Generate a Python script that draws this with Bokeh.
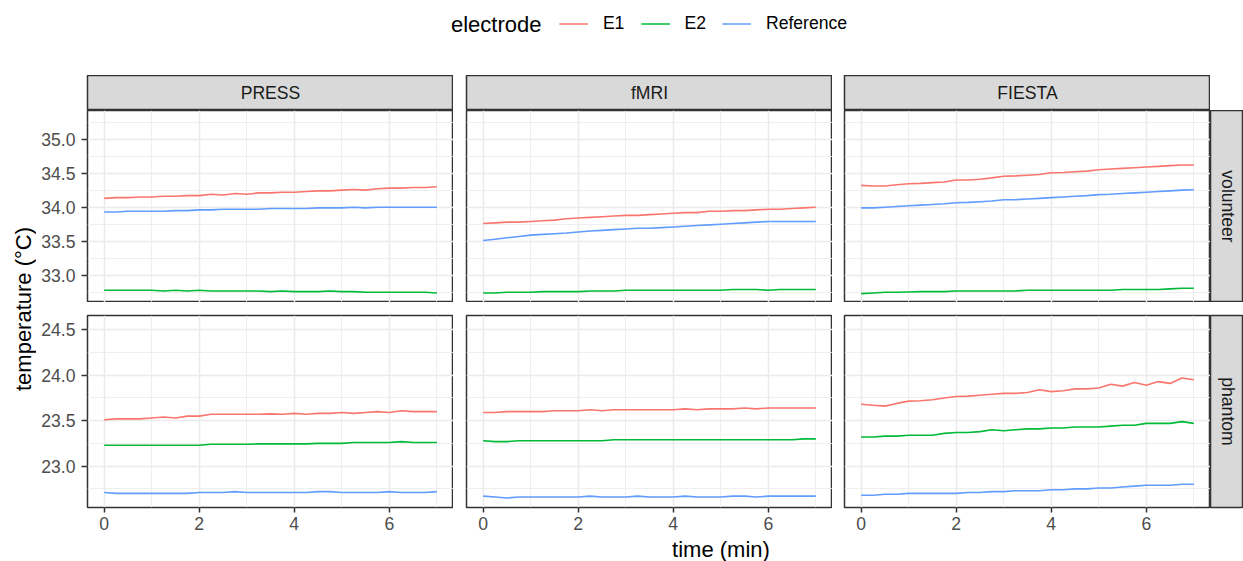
import math
from bokeh.plotting import figure
from bokeh.layouts import row, column
from bokeh.models import (Range1d, FixedTicker, Label, Legend, LegendItem,
                          Grid, PrintfTickFormatter, ColumnDataSource)
from bokeh.embed import file_html
from bokeh.resources import INLINE

# ---------------- data ----------------
time_min = [0.0, 0.25, 0.5, 0.75, 1.0, 1.25, 1.5, 1.75, 2.0, 2.25, 2.5, 2.75,
            3.0, 3.25, 3.5, 3.75, 4.0, 4.25, 4.5, 4.75, 5.0, 5.25, 5.5, 5.75,
            6.0, 6.25, 6.5, 6.75, 7.0]

electrodes = ["E1", "E2", "Reference"]
scans = ["PRESS", "fMRI", "FIESTA"]
subjects = ["volunteer", "phantom"]

press_vol_e1 = [34.14, 34.15, 34.15, 34.16, 34.16, 34.17, 34.17, 34.18, 34.18, 34.20, 34.19, 34.21, 34.20, 34.22, 34.22,
                34.23, 34.23, 34.24, 34.25, 34.25, 34.26, 34.27, 34.26, 34.28, 34.29, 34.29, 34.30, 34.30, 34.31]
press_vol_e2 = [32.79, 32.79, 32.79, 32.79, 32.79, 32.78, 32.79, 32.78, 32.79, 32.78, 32.78, 32.78, 32.78, 32.78, 32.77,
                32.78, 32.77, 32.77, 32.77, 32.78, 32.77, 32.77, 32.76, 32.76, 32.76, 32.76, 32.76, 32.76, 32.75]
press_vol_ref = [33.94, 33.94, 33.95, 33.95, 33.95, 33.95, 33.96, 33.96, 33.97, 33.97, 33.98, 33.98, 33.98, 33.98, 33.99,
                 33.99, 33.99, 33.99, 34.00, 34.00, 34.00, 34.01, 34.00, 34.01, 34.01, 34.01, 34.01, 34.01, 34.01]

fmri_vol_e1 = [33.77, 33.78, 33.79, 33.79, 33.80, 33.81, 33.82, 33.84, 33.85, 33.86, 33.87, 33.88, 33.89, 33.89, 33.90,
               33.91, 33.92, 33.93, 33.93, 33.95, 33.95, 33.96, 33.96, 33.97, 33.98, 33.98, 33.99, 34.00, 34.01]
fmri_vol_e2 = [32.75, 32.75, 32.76, 32.76, 32.76, 32.77, 32.77, 32.77, 32.77, 32.78, 32.78, 32.78, 32.79, 32.79, 32.79,
               32.79, 32.79, 32.79, 32.79, 32.79, 32.79, 32.80, 32.80, 32.80, 32.79, 32.80, 32.80, 32.80, 32.80]
fmri_vol_ref = [33.52, 33.54, 33.56, 33.58, 33.60, 33.61, 33.62, 33.63, 33.645, 33.66, 33.67, 33.68, 33.69, 33.70, 33.70,
                33.71, 33.72, 33.73, 33.74, 33.75, 33.76, 33.77, 33.78, 33.79, 33.80, 33.80, 33.80, 33.80, 33.80]

fiesta_vol_e1 = [34.33, 34.32, 34.32, 34.34, 34.355, 34.36, 34.37, 34.38, 34.41, 34.41, 34.42, 34.44, 34.465, 34.47, 34.48,
                 34.49, 34.515, 34.52, 34.53, 34.54, 34.56, 34.57, 34.58, 34.59, 34.60, 34.61, 34.62, 34.63, 34.63]
fiesta_vol_e2 = [32.74, 32.75, 32.76, 32.76, 32.765, 32.77, 32.77, 32.77, 32.78, 32.78, 32.78, 32.78, 32.78, 32.78, 32.79,
                 32.79, 32.79, 32.79, 32.79, 32.79, 32.79, 32.79, 32.80, 32.80, 32.80, 32.80, 32.81, 32.82, 32.82]
fiesta_vol_ref = [34.00, 34.00, 34.01, 34.02, 34.03, 34.04, 34.05, 34.06, 34.075, 34.08, 34.09, 34.10, 34.12, 34.12, 34.13,
                  34.14, 34.15, 34.16, 34.17, 34.18, 34.195, 34.20, 34.21, 34.22, 34.23, 34.24, 34.25, 34.26, 34.265]

press_ph_e1 = [23.51, 23.52, 23.52, 23.52, 23.53, 23.54, 23.53, 23.55, 23.55, 23.57, 23.57, 23.57, 23.57, 23.57, 23.575,
               23.57, 23.58, 23.57, 23.58, 23.58, 23.59, 23.58, 23.59, 23.60, 23.59, 23.61, 23.60, 23.60, 23.60]
press_ph_e2 = [23.23, 23.23, 23.23, 23.23, 23.23, 23.23, 23.23, 23.23, 23.23, 23.24, 23.24, 23.24, 23.24, 23.245, 23.245,
               23.245, 23.245, 23.245, 23.25, 23.25, 23.25, 23.26, 23.26, 23.26, 23.26, 23.27, 23.26, 23.26, 23.26]
press_ph_ref = [22.71, 22.70, 22.70, 22.70, 22.70, 22.70, 22.70, 22.70, 22.71, 22.71, 22.71, 22.72, 22.71, 22.71, 22.71,
                22.71, 22.71, 22.71, 22.72, 22.72, 22.71, 22.71, 22.71, 22.71, 22.72, 22.71, 22.71, 22.71, 22.72]

fmri_ph_e1 = [23.59, 23.59, 23.60, 23.60, 23.60, 23.60, 23.61, 23.61, 23.61, 23.62, 23.61, 23.62, 23.62, 23.62, 23.62,
              23.62, 23.62, 23.63, 23.62, 23.63, 23.63, 23.63, 23.64, 23.63, 23.64, 23.64, 23.64, 23.64, 23.64]
fmri_ph_e2 = [23.28, 23.27, 23.27, 23.28, 23.28, 23.28, 23.28, 23.28, 23.28, 23.28, 23.28, 23.29, 23.29, 23.29, 23.29,
              23.29, 23.29, 23.29, 23.29, 23.29, 23.29, 23.29, 23.29, 23.29, 23.29, 23.29, 23.29, 23.30, 23.30]
fmri_ph_ref = [22.67, 22.66, 22.65, 22.66, 22.66, 22.66, 22.66, 22.66, 22.66, 22.67, 22.66, 22.66, 22.66, 22.67, 22.66,
               22.66, 22.66, 22.67, 22.66, 22.66, 22.66, 22.67, 22.67, 22.66, 22.67, 22.67, 22.67, 22.67, 22.67]

fiesta_ph_e1 = [23.68, 23.67, 23.66, 23.69, 23.715, 23.72, 23.73, 23.75, 23.766, 23.77, 23.78, 23.79, 23.80, 23.80, 23.81,
                23.84, 23.82, 23.83, 23.85, 23.85, 23.86, 23.90, 23.88, 23.92, 23.89, 23.93, 23.91, 23.97, 23.95]
fiesta_ph_e2 = [23.32, 23.32, 23.33, 23.33, 23.34, 23.34, 23.34, 23.36, 23.37, 23.37, 23.38, 23.40, 23.39, 23.40, 23.41,
                23.41, 23.42, 23.42, 23.43, 23.43, 23.43, 23.44, 23.45, 23.45, 23.47, 23.47, 23.47, 23.49, 23.47]
fiesta_ph_ref = [22.68, 22.68, 22.69, 22.69, 22.70, 22.70, 22.70, 22.70, 22.70, 22.71, 22.71, 22.72, 22.72, 22.73, 22.73,
                 22.73, 22.74, 22.74, 22.75, 22.75, 22.76, 22.76, 22.77, 22.78, 22.79, 22.79, 22.79, 22.80, 22.80]

x_ticks = [0, 2, 4, 6]
x_minor = [1, 3, 5, 7]
vol_ticks = [33.0, 33.5, 34.0, 34.5, 35.0]
vol_minor = [32.75, 33.25, 33.75, 34.25, 34.75, 35.25]
ph_ticks = [23.0, 23.5, 24.0, 24.5]
ph_minor = [22.75, 23.25, 23.75, 24.25]

series = {
    ("volunteer", "PRESS"): [press_vol_e1, press_vol_e2, press_vol_ref],
    ("volunteer", "fMRI"): [fmri_vol_e1, fmri_vol_e2, fmri_vol_ref],
    ("volunteer", "FIESTA"): [fiesta_vol_e1, fiesta_vol_e2, fiesta_vol_ref],
    ("phantom", "PRESS"): [press_ph_e1, press_ph_e2, press_ph_ref],
    ("phantom", "fMRI"): [fmri_ph_e1, fmri_ph_e2, fmri_ph_ref],
    ("phantom", "FIESTA"): [fiesta_ph_e1, fiesta_ph_e2, fiesta_ph_ref],
}

# ---------------- style ----------------
COLORS = ["#F8766D", "#00BA38", "#619CFF"]
FONT = "Liberation Sans"
GRID = "#EBEBEB"
BORDER = "#333333"
STRIP = "#D9D9D9"
LW = 1.6

y_ranges = {"volunteer": (32.61, 35.43), "phantom": (22.545, 24.657)}
y_tick_sets = {"volunteer": (vol_ticks, vol_minor), "phantom": (ph_ticks, ph_minor)}

FRAME_W, FRAME_H = 366, 192
LEFT_TITLE_W = 36
col_left_border = [87 - LEFT_TITLE_W, 13, 12]
STRIP_H = 35
RSTRIP_W = 33
GAP = 13
BOTTOM = 31
HEADER_H = 75
FOOTER_H = 561 - HEADER_H - STRIP_H - FRAME_H - (GAP + FRAME_H + BOTTOM)


def bare(width, height, **kw):
    p = figure(width=width, height=height, output_backend="svg", toolbar_location=None,
               title=None, x_axis_location=None, y_axis_location=None, min_border=0, **kw)
    p.grid.visible = False
    p.outline_line_color = None
    p.border_fill_color = "white"
    p.background_fill_color = "white"
    return p


def panel(subject, scan, ci, ri):
    has_y = ci == 0
    has_x = ri == 1
    w = col_left_border[ci] + FRAME_W
    top = 0 if ri == 0 else GAP
    bottom = BOTTOM if has_x else 0
    h = top + FRAME_H + bottom
    p = figure(width=w, height=h, output_backend="svg", toolbar_location=None, title=None,
               x_axis_location="below" if has_x else None,
               y_axis_location="left" if has_y else None,
               x_range=Range1d(-0.35, 7.35), y_range=Range1d(*y_ranges[subject]),
               min_border=0, min_border_left=col_left_border[ci], min_border_right=0,
               min_border_top=top, min_border_bottom=bottom)
    p.grid.visible = False
    p.background_fill_color = "white"
    p.border_fill_color = "white"
    p.outline_line_color = BORDER
    p.outline_line_width = 1.5
    p.outline_line_alpha = 1.0
    major, minor = y_tick_sets[subject]
    xg = Grid(dimension=0, ticker=FixedTicker(ticks=x_ticks, minor_ticks=x_minor),
              grid_line_color=GRID, grid_line_width=1.5,
              minor_grid_line_color=GRID, minor_grid_line_width=0.8)
    yg = Grid(dimension=1, ticker=FixedTicker(ticks=major, minor_ticks=minor),
              grid_line_color=GRID, grid_line_width=1.5,
              minor_grid_line_color=GRID, minor_grid_line_width=0.8)
    p.add_layout(xg, "center")
    p.add_layout(yg, "center")
    for ax in p.xaxis + p.yaxis:
        ax.axis_line_color = None
        ax.major_tick_line_color = BORDER
        ax.major_tick_line_width = 1.5
        ax.major_tick_in = 0
        ax.minor_tick_line_color = None
        ax.major_label_text_font = FONT
        ax.major_label_text_font_size = "17.6px"
        ax.major_label_text_color = "#4D4D4D"
    if has_x:
        p.xaxis.ticker = FixedTicker(ticks=x_ticks)
        p.xaxis.major_tick_out = 5
        p.xaxis.major_label_standoff = 4
    if has_y:
        p.yaxis.ticker = FixedTicker(ticks=major)
        p.yaxis.formatter = PrintfTickFormatter(format="%.1f")
        p.yaxis.major_tick_out = 6
        p.yaxis.major_label_standoff = 6
    for name, color, ys in zip(electrodes, COLORS, series[(subject, scan)]):
        src = ColumnDataSource(data=dict(t=time_min, temp=ys))
        p.line("t", "temp", source=src, line_color=color, line_width=LW, line_join="round")
    return p


def top_strip(text, ci):
    w = col_left_border[ci] + FRAME_W
    p = bare(w, STRIP_H, x_range=Range1d(0, 1), y_range=Range1d(0, 1))
    p.min_border_left = col_left_border[ci]
    p.background_fill_color = STRIP
    p.outline_line_color = BORDER
    p.outline_line_width = 1.5
    p.add_layout(Label(x=0.5, y=0.5, text=text, text_align="center", text_baseline="middle",
                       text_font=FONT, text_font_size="17.6px", text_color="#1A1A1A"))
    return p


def right_strip(text, ri):
    top = 0 if ri == 0 else GAP
    bottom = BOTTOM if ri == 1 else 0
    p = bare(RSTRIP_W, top + FRAME_H + bottom, x_range=Range1d(0, RSTRIP_W), y_range=Range1d(0, 1))
    p.min_border_top = top
    p.min_border_bottom = bottom
    p.background_fill_color = STRIP
    p.outline_line_color = BORDER
    p.outline_line_width = 1.5
    p.add_layout(Label(x=17, y=0.5, text=text, angle=-math.pi / 2, text_align="center",
                       text_baseline="middle", text_font=FONT, text_font_size="17.6px",
                       text_color="#1A1A1A"))
    return p


# header with legend (legend renderers use the real series, which fall outside the header's ranges)
HL, HR, HB = 300, 137, 29
header = bare(1243, HEADER_H, x_range=Range1d(HL, 1243 - HR), y_range=Range1d(HEADER_H - HB, 0))
header.min_border_left = HL
header.min_border_right = HR
header.min_border_bottom = HB
items = []
for name, color, ys in zip(electrodes, COLORS, series[("volunteer", "PRESS")]):
    r = header.line(x=time_min, y=ys, line_color=color, line_width=LW)
    items.append(LegendItem(label=name, renderers=[r]))
legend = Legend(items=items, orientation="horizontal", location="center",
                glyph_width=29, glyph_height=20, label_standoff=15, spacing=16,
                padding=0, margin=0, border_line_color=None, background_fill_alpha=0,
                label_text_font=FONT, label_text_font_size="17.6px", label_text_color="black")
header.add_layout(legend, "center")
header.add_layout(Label(x=541, y=24, text="electrode", text_align="right", text_baseline="middle",
                        text_font=FONT, text_font_size="22px", text_color="black"))

# y title
panels_h = STRIP_H + FRAME_H + GAP + FRAME_H + BOTTOM
ytitle = bare(LEFT_TITLE_W, panels_h, x_range=Range1d(0, LEFT_TITLE_W), y_range=Range1d(panels_h, 0))
ytitle.add_layout(Label(x=23, y=308.5 - HEADER_H, text="temperature (°C)", angle=math.pi / 2,
                        text_align="center", text_baseline="middle", text_font=FONT,
                        text_font_size="22px", text_color="black"))

# footer x title
footer = bare(1243, FOOTER_H, x_range=Range1d(0, 1243), y_range=Range1d(FOOTER_H, 0))
footer.add_layout(Label(x=648.5, y=549 - (561 - FOOTER_H), text="time (min)", text_align="center",
                        text_baseline="middle", text_font=FONT, text_font_size="22px",
                        text_color="black"))

strip_row = row([top_strip(s, i) for i, s in enumerate(scans)], spacing=0)
panel_rows = []
for ri, subj in enumerate(subjects):
    figs = [panel(subj, scan, ci, ri) for ci, scan in enumerate(scans)]
    figs.append(right_strip(subj, ri))
    panel_rows.append(row(figs, spacing=0))

grid = column([strip_row] + panel_rows, spacing=0)
body = row([ytitle, grid], spacing=0)
page = column([header, body, footer], spacing=0)

open("out.html", "w").write(file_html(page, INLINE))
